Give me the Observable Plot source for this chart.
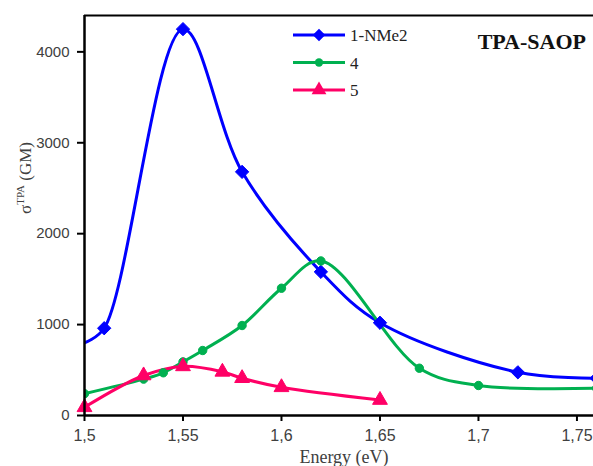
<!DOCTYPE html>
<html>
<head>
<meta charset="utf-8">
<script src="https://cdn.jsdelivr.net/npm/d3@7"></script>
<script src="https://cdn.jsdelivr.net/npm/@observablehq/plot@0.6"></script>
<style>
  html, body { margin: 0; padding: 0; background: #fff; }
  #chart svg { display: block; }
  #chart svg text { font-family: "Liberation Serif", "Times New Roman", serif; }
  #chart svg g[aria-label="x-axis tick label"] text,
  #chart svg g[aria-label="y-axis tick label"] text { font-family: "Liberation Sans", Arial, sans-serif; }
</style>
</head>
<body>
<div id="chart"></div>
<script>
// ---- data ----
const seriesNames = ["1-NMe2", "4", "5"];
const colors = ["#0000FF", "#00B050", "#FF0066"];
const symbols = ["diamond2", "circle", "triangle"];

const nme2Energy = [1.5, 1.51, 1.55, 1.58, 1.62, 1.65, 1.72, 1.76];
const nme2Sigma  = [800, 960, 4250, 2680, 1580, 1020, 475, 410];

const s4Energy = [1.5, 1.53, 1.54, 1.55, 1.56, 1.58, 1.6, 1.62, 1.67, 1.7, 1.76];
const s4Sigma  = [240, 400, 470, 590, 715, 990, 1400, 1700, 520, 330, 300];

const s5Energy = [1.5, 1.53, 1.55, 1.57, 1.58, 1.6, 1.65];
const s5Sigma  = [90, 440, 540, 480, 410, 310, 170];

const xTicks = [1.5, 1.55, 1.6, 1.65, 1.7, 1.75];
const xTickLabels = ["1,5", "1,55", "1,6", "1,65", "1,7", "1,75"];
const yTicks = [0, 1000, 2000, 3000, 4000];

const titleText = "TPA-SAOP";

// ---- build tables ----
const mk = (E, V, name) => E.map((e, i) => ({energy: e, sigma: V[i], series: name, first: i === 0}));
const d1 = mk(nme2Energy, nme2Sigma, seriesNames[0]);
const d4 = mk(s4Energy, s4Sigma, seriesNames[1]);
const d5 = mk(s5Energy, s5Sigma, seriesNames[2]);
const sets = [d1, d4, d5];

const W = 593, H = 466;
const ml = 84, mr = 0, mt = 15, mb = 51;
const txt = "#404040";

const marks = [];
marks.push(Plot.ruleY([4400], {stroke: "#000", strokeWidth: 2}));
sets.forEach((d, k) => {
  marks.push(Plot.line(d, {x: "energy", y: "sigma", stroke: colors[k], strokeWidth: 3, curve: "catmull-rom", clip: true}));
});
const rs = [6, 4.2, 5.5];
sets.forEach((d, k) => {
  const dd = k === 0 ? d.filter(p => !p.first) : d;
  marks.push(Plot.dot(dd, {x: "energy", y: "sigma", fill: colors[k], stroke: colors[k], strokeWidth: 1, symbol: () => symbols[k], r: rs[k], clip: k !== 2}));
});
marks.push(Plot.ruleX([1.5], {stroke: "#000", strokeWidth: 2.5}));
marks.push(Plot.ruleY([0], {stroke: "#000", strokeWidth: 2.5}));
marks.push(Plot.axisX({ticks: xTicks, tickFormat: d => xTickLabels[xTicks.indexOf(d)], tickSize: 6, tickPadding: 8, strokeWidth: 2, fontSize: 16, fill: txt, label: null}));
marks.push(Plot.axisY({ticks: yTicks, tickFormat: d => String(d), tickSize: 7, tickPadding: 8, strokeWidth: 2, fontSize: 15, fill: txt, label: null}));

const plot = Plot.plot({
  width: W, height: H,
  marginLeft: ml, marginRight: mr, marginTop: mt, marginBottom: mb,
  x: {domain: [1.5, 1.7584]},
  y: {domain: [0, 4400]},
  style: {background: "#fff", overflow: "visible"},
  marks
});
document.getElementById("chart").appendChild(plot);

// ---- overlays: axis titles, legend, title ----
const svg = d3.select(plot);
const yl = svg.append("text")
  .attr("transform", "translate(31,178) rotate(-90)")
  .attr("text-anchor", "middle")
  .attr("font-size", 17).attr("fill", txt);
yl.append("tspan").text("σ");
yl.append("tspan").attr("font-size", 11).attr("dy", -7).text("TPA");
yl.append("tspan").attr("dy", 7).text(" (GM)");
svg.append("text")
  .attr("x", 344).attr("y", 463)
  .attr("text-anchor", "middle")
  .attr("font-size", 18).attr("fill", txt)
  .text("Energy (eV)");
svg.append("text")
  .attr("x", 586).attr("y", 49)
  .attr("text-anchor", "end")
  .attr("font-size", 22).attr("font-weight", "bold").attr("fill", "#111")
  .text(titleText);
const symGen = {diamond2: d3.symbolDiamond2, circle: d3.symbolCircle, triangle: d3.symbolTriangle};
const symSize = [100, 55, 95];
seriesNames.forEach((name, k) => {
  const y = 35 + k * 27.5;
  const g = svg.append("g");
  g.append("line").attr("x1", 293).attr("x2", 345).attr("y1", y).attr("y2", y)
    .attr("stroke", colors[k]).attr("stroke-width", 3);
  g.append("path").attr("transform", `translate(319,${y})`)
    .attr("d", d3.symbol(symGen[symbols[k]], symSize[k])())
    .attr("fill", colors[k]);
  g.append("text").attr("x", 350).attr("y", y + 6)
    .attr("text-anchor", "start")
    .attr("font-size", 17).attr("fill", "#222")
    .text(name);
});
</script>
</body>
</html>
